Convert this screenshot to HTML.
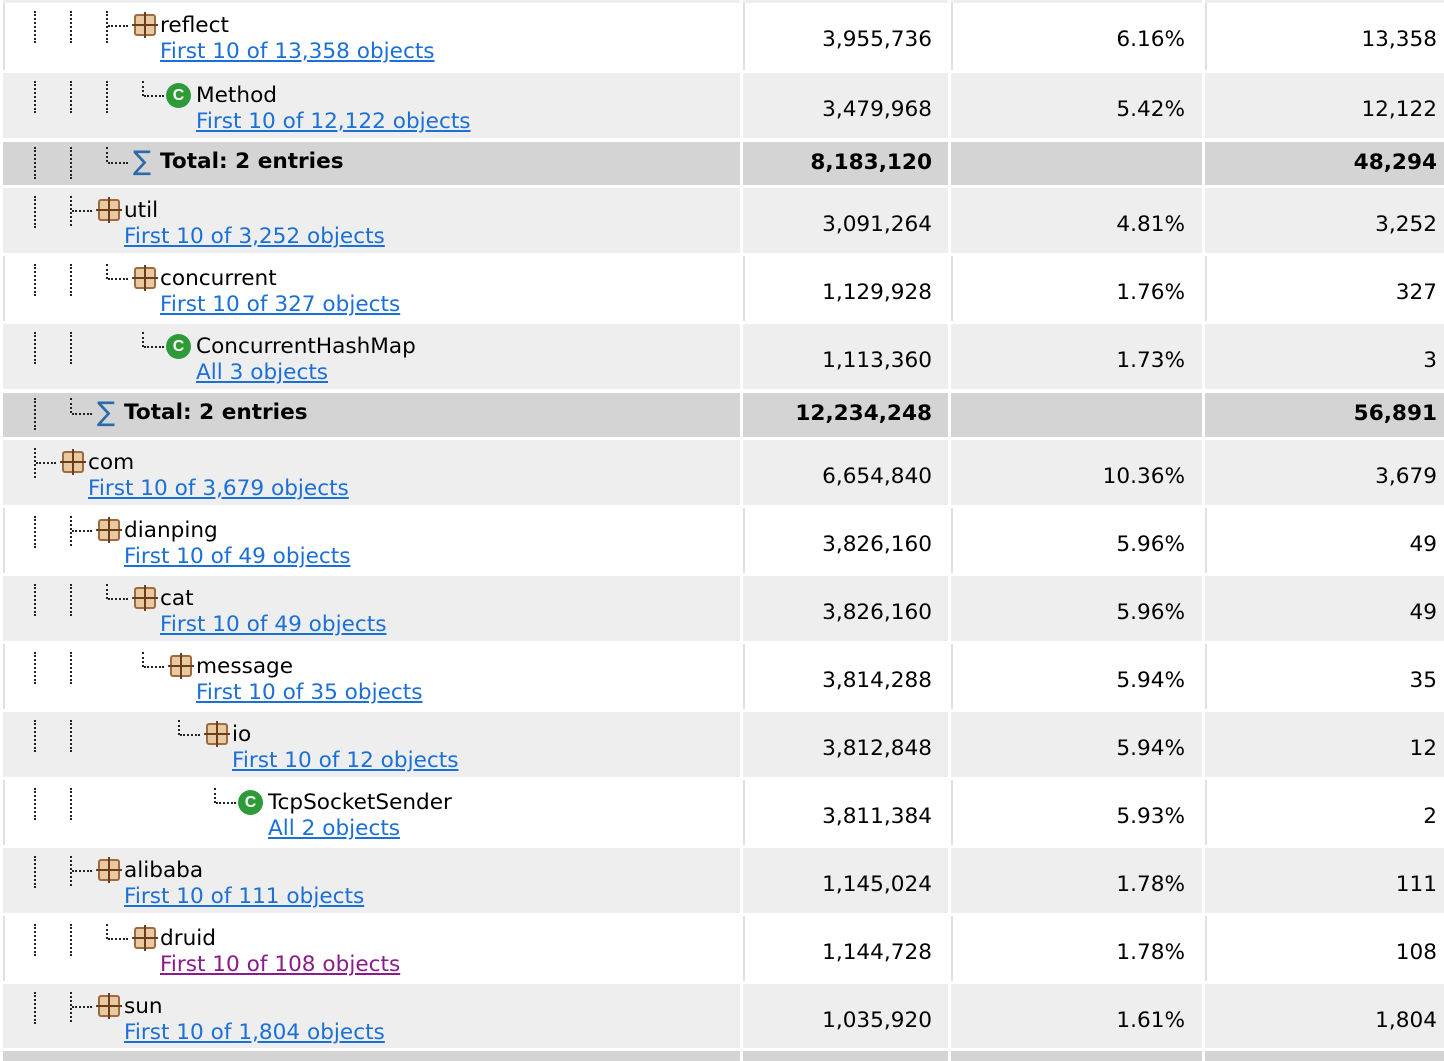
<!DOCTYPE html>
<html><head><meta charset="utf-8"><style>
body{margin:0;width:1444px;height:1056px;background:#fff;position:relative;overflow:hidden;font-family:"DejaVu Sans","Liberation Sans",sans-serif;font-size:21.6px;color:#000}
.r{position:absolute;left:0;width:1444px}
.c{position:absolute;top:0;bottom:0}
.w .c{background:#fff;border-left:2px solid #e0e0e0;box-sizing:border-box}
.g .c{background:#eeeeee}
.t .c{background:#d4d4d4}
.c1{left:3px;width:737px}.c2{left:743px;width:205px}.c3{left:951px;width:251px}.c4{left:1205px;width:239px}
.n{position:absolute;right:0;top:24px;line-height:26px;text-align:right;white-space:nowrap}
.c2 .n{right:16px}.c3 .n{right:17px}.c4 .n{right:7px}
.t .n{top:8px;font-weight:bold}
.nm{position:absolute;top:10px;line-height:26px;white-space:nowrap}
.lk{position:absolute;top:36px;line-height:26px;white-space:nowrap;color:#1a6fd8;text-decoration:underline}
.t .nm{top:7px;font-weight:bold}
.v{position:absolute;top:8px;height:32px;border-left:2px dotted #222}
.cv{position:absolute;top:8px;border-left:2px dotted #222}
.h{position:absolute;top:22px;width:20px;border-top:2px dotted #222}
.pk{position:absolute;top:11px;width:22px;height:22px;background:#e8c9a0;border:2px solid #a06a40;box-sizing:border-box;border-radius:3px}
.pk:before{content:"";position:absolute;left:8px;top:-4px;width:2px;height:26px;background:#6b3d1e}
.pk:after{content:"";position:absolute;top:8px;left:-4px;height:2px;width:26px;background:#6b3d1e}
.cl{position:absolute;top:10px;width:25px;height:25px;border-radius:50%;background:#2e9a38;color:#fff;font-weight:bold;font-size:16px;line-height:25px;text-align:center;font-family:"Liberation Sans",sans-serif}
.sg{position:absolute;top:3px;color:#2a6aa8;font-size:27px;line-height:34px}
</style></head><body>
<div class="r g" style="top:-65px;height:68px"><div class="c c1"></div><div class="c c2"></div><div class="c c3"></div><div class="c c4"></div></div>

<div class="r w" style="top:3px;height:67px"><div class="c c1"></div><div class="c c2"><span class="n">3,955,736</span></div><div class="c c3"><span class="n">6.16%</span></div><div class="c c4"><span class="n">13,358</span></div>
<div class="v" style="left:34px"></div><div class="v" style="left:70px"></div><div class="cv" style="left:106px;height:32px"></div><div class="h" style="left:108px"></div><div class="pk" style="left:134px"></div><span class="nm" style="left:160px">reflect</span><span class="lk" style="left:160px">First 10 of 13,358 objects</span></div>

<div class="r g" style="top:73px;height:65px"><div class="c c1"></div><div class="c c2"><span class="n">3,479,968</span></div><div class="c c3"><span class="n">5.42%</span></div><div class="c c4"><span class="n">12,122</span></div>
<div class="v" style="left:34px"></div><div class="v" style="left:70px"></div><div class="v" style="left:106px"></div><div class="cv" style="left:142px;height:15px"></div><div class="h" style="left:144px"></div><div class="cl" style="left:166px">C</div><span class="nm" style="left:196px">Method</span><span class="lk" style="left:196px">First 10 of 12,122 objects</span></div>

<div class="r t" style="top:142px;height:43px"><div class="c c1"></div><div class="c c2"><span class="n">8,183,120</span></div><div class="c c3"></div><div class="c c4"><span class="n">48,294</span></div>
<div class="v" style="left:34px;top:5px"></div><div class="v" style="left:70px;top:5px"></div><div class="cv" style="left:106px;top:5px;height:15px"></div><div class="h" style="left:108px;top:20px"></div><span class="sg" style="left:133px">∑</span><span class="nm" style="left:160px">Total: 2 entries</span></div>

<div class="r g" style="top:188px;height:65px"><div class="c c1"></div><div class="c c2"><span class="n">3,091,264</span></div><div class="c c3"><span class="n">4.81%</span></div><div class="c c4"><span class="n">3,252</span></div>
<div class="v" style="left:34px"></div><div class="cv" style="left:70px;height:30px"></div><div class="h" style="left:72px"></div><div class="pk" style="left:98px"></div><span class="nm" style="left:124px">util</span><span class="lk" style="left:124px">First 10 of 3,252 objects</span></div>

<div class="r w" style="top:256px;height:65px"><div class="c c1"></div><div class="c c2"><span class="n">1,129,928</span></div><div class="c c3"><span class="n">1.76%</span></div><div class="c c4"><span class="n">327</span></div>
<div class="v" style="left:34px"></div><div class="v" style="left:70px"></div><div class="cv" style="left:106px;height:15px"></div><div class="h" style="left:108px"></div><div class="pk" style="left:134px"></div><span class="nm" style="left:160px">concurrent</span><span class="lk" style="left:160px">First 10 of 327 objects</span></div>

<div class="r g" style="top:324px;height:65px"><div class="c c1"></div><div class="c c2"><span class="n">1,113,360</span></div><div class="c c3"><span class="n">1.73%</span></div><div class="c c4"><span class="n">3</span></div>
<div class="v" style="left:34px"></div><div class="v" style="left:70px"></div><div class="cv" style="left:142px;height:15px"></div><div class="h" style="left:144px"></div><div class="cl" style="left:166px">C</div><span class="nm" style="left:196px">ConcurrentHashMap</span><span class="lk" style="left:196px">All 3 objects</span></div>

<div class="r t" style="top:393px;height:44px"><div class="c c1"></div><div class="c c2"><span class="n">12,234,248</span></div><div class="c c3"></div><div class="c c4"><span class="n">56,891</span></div>
<div class="v" style="left:34px;top:5px"></div><div class="cv" style="left:70px;top:5px;height:15px"></div><div class="h" style="left:72px;top:20px"></div><span class="sg" style="left:97px">∑</span><span class="nm" style="left:124px">Total: 2 entries</span></div>

<div class="r g" style="top:440px;height:65px"><div class="c c1"></div><div class="c c2"><span class="n">6,654,840</span></div><div class="c c3"><span class="n">10.36%</span></div><div class="c c4"><span class="n">3,679</span></div>
<div class="cv" style="left:34px;height:30px"></div><div class="h" style="left:36px"></div><div class="pk" style="left:62px"></div><span class="nm" style="left:88px">com</span><span class="lk" style="left:88px">First 10 of 3,679 objects</span></div>

<div class="r w" style="top:508px;height:65px"><div class="c c1"></div><div class="c c2"><span class="n">3,826,160</span></div><div class="c c3"><span class="n">5.96%</span></div><div class="c c4"><span class="n">49</span></div>
<div class="v" style="left:34px"></div><div class="cv" style="left:70px;height:30px"></div><div class="h" style="left:72px"></div><div class="pk" style="left:98px"></div><span class="nm" style="left:124px">dianping</span><span class="lk" style="left:124px">First 10 of 49 objects</span></div>

<div class="r g" style="top:576px;height:65px"><div class="c c1"></div><div class="c c2"><span class="n">3,826,160</span></div><div class="c c3"><span class="n">5.96%</span></div><div class="c c4"><span class="n">49</span></div>
<div class="v" style="left:34px"></div><div class="v" style="left:70px"></div><div class="cv" style="left:106px;height:15px"></div><div class="h" style="left:108px"></div><div class="pk" style="left:134px"></div><span class="nm" style="left:160px">cat</span><span class="lk" style="left:160px">First 10 of 49 objects</span></div>

<div class="r w" style="top:644px;height:65px"><div class="c c1"></div><div class="c c2"><span class="n">3,814,288</span></div><div class="c c3"><span class="n">5.94%</span></div><div class="c c4"><span class="n">35</span></div>
<div class="v" style="left:34px"></div><div class="v" style="left:70px"></div><div class="cv" style="left:142px;height:15px"></div><div class="h" style="left:144px"></div><div class="pk" style="left:170px"></div><span class="nm" style="left:196px">message</span><span class="lk" style="left:196px">First 10 of 35 objects</span></div>

<div class="r g" style="top:712px;height:65px"><div class="c c1"></div><div class="c c2"><span class="n">3,812,848</span></div><div class="c c3"><span class="n">5.94%</span></div><div class="c c4"><span class="n">12</span></div>
<div class="v" style="left:34px"></div><div class="v" style="left:70px"></div><div class="cv" style="left:178px;height:15px"></div><div class="h" style="left:180px"></div><div class="pk" style="left:206px"></div><span class="nm" style="left:232px">io</span><span class="lk" style="left:232px">First 10 of 12 objects</span></div>

<div class="r w" style="top:780px;height:65px"><div class="c c1"></div><div class="c c2"><span class="n">3,811,384</span></div><div class="c c3"><span class="n">5.93%</span></div><div class="c c4"><span class="n">2</span></div>
<div class="v" style="left:34px"></div><div class="v" style="left:70px"></div><div class="cv" style="left:214px;height:15px"></div><div class="h" style="left:216px"></div><div class="cl" style="left:238px">C</div><span class="nm" style="left:268px">TcpSocketSender</span><span class="lk" style="left:268px">All 2 objects</span></div>

<div class="r g" style="top:848px;height:65px"><div class="c c1"></div><div class="c c2"><span class="n">1,145,024</span></div><div class="c c3"><span class="n">1.78%</span></div><div class="c c4"><span class="n">111</span></div>
<div class="v" style="left:34px"></div><div class="cv" style="left:70px;height:30px"></div><div class="h" style="left:72px"></div><div class="pk" style="left:98px"></div><span class="nm" style="left:124px">alibaba</span><span class="lk" style="left:124px">First 10 of 111 objects</span></div>

<div class="r w" style="top:916px;height:65px"><div class="c c1"></div><div class="c c2"><span class="n">1,144,728</span></div><div class="c c3"><span class="n">1.78%</span></div><div class="c c4"><span class="n">108</span></div>
<div class="v" style="left:34px"></div><div class="v" style="left:70px"></div><div class="cv" style="left:106px;height:15px"></div><div class="h" style="left:108px"></div><div class="pk" style="left:134px"></div><span class="nm" style="left:160px">druid</span><span class="lk" style="left:160px;color:#8b1a8b">First 10 of 108 objects</span></div>

<div class="r g" style="top:984px;height:64px"><div class="c c1"></div><div class="c c2"><span class="n">1,035,920</span></div><div class="c c3"><span class="n">1.61%</span></div><div class="c c4"><span class="n">1,804</span></div>
<div class="v" style="left:34px"></div><div class="cv" style="left:70px;height:30px"></div><div class="h" style="left:72px"></div><div class="pk" style="left:98px"></div><span class="nm" style="left:124px">sun</span><span class="lk" style="left:124px">First 10 of 1,804 objects</span></div>

<div class="r t" style="top:1051px;height:10px"><div class="c c1"></div><div class="c c2"></div><div class="c c3"></div><div class="c c4"></div></div>
</body></html>
